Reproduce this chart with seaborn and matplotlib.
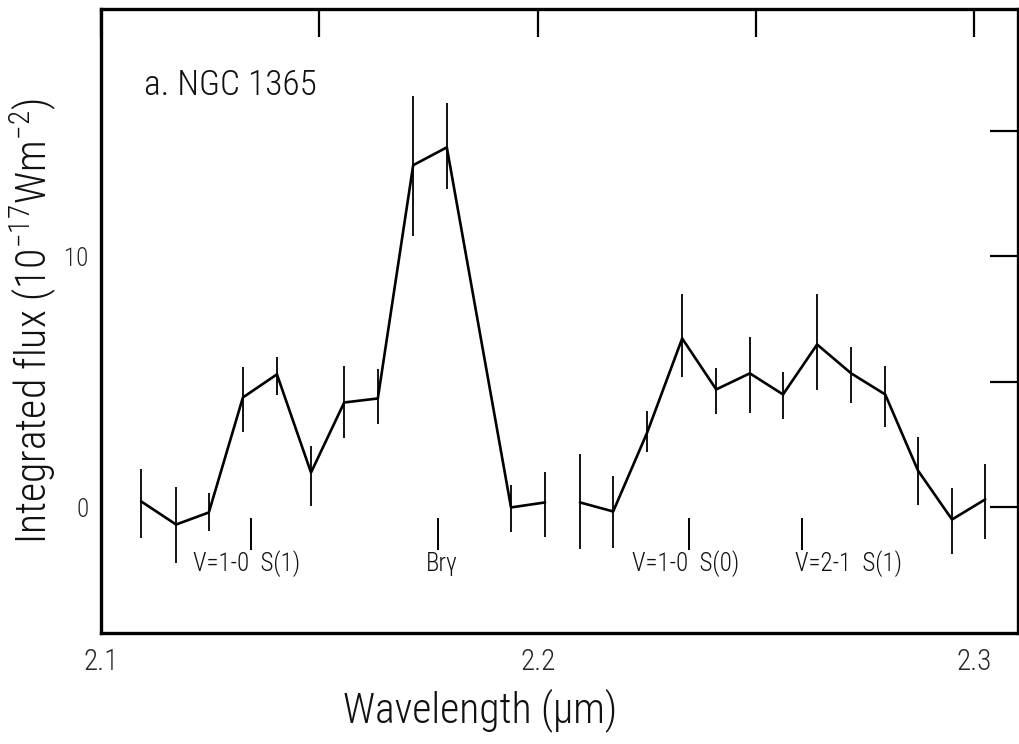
import matplotlib
matplotlib.use("Agg")
import matplotlib.pyplot as plt
from matplotlib import font_manager as fm
import seaborn as sns
import pandas as pd

# ---- data ----
segment = [1] * 12 + [2] * 13
wavelength = [2.1092, 2.1172, 2.1247, 2.1325, 2.1403, 2.1481, 2.1557, 2.1634,
              2.1715, 2.1792, 2.1939, 2.2017,
              2.2097, 2.2173, 2.2251, 2.2331, 2.2409, 2.2486, 2.2562, 2.2640,
              2.2718, 2.2796, 2.2871, 2.2949, 2.3025]
flux = [0.24, -0.68, -0.20, 4.38, 5.30, 1.39, 4.18, 4.34, 13.63, 14.34, 0.00, 0.20,
        0.20, -0.16, 2.99, 6.73, 4.70, 5.34, 4.50, 6.49, 5.34, 4.50, 1.47, -0.48, 0.32]
err_high = [1.55, 0.80, 0.56, 5.58, 5.98, 2.43, 5.62, 5.50, 16.37, 16.10, 0.88, 1.43,
            2.11, 1.24, 3.86, 8.49, 5.54, 6.77, 5.38, 8.49, 6.37, 5.62, 2.79, 0.76, 1.75]
err_low = [-1.20, -2.23, -0.92, 2.99, 4.46, 0.04, 2.75, 3.31, 10.80, 12.70, -0.96, -1.16,
           -1.67, -1.63, 2.19, 5.18, 3.71, 3.78, 3.51, 4.66, 4.14, 3.19, 0.08, -1.87, -1.27]

line_names = ["V=1-0  S(1)", "Br\u03b3", "V=1-0  S(0)", "V=2-1  S(1)"]
line_wavelengths = [2.1344, 2.1772, 2.2347, 2.2606]
line_label_x = [2.1334, 2.1781, 2.2338, 2.2711]

x_ticks = [2.10, 2.15, 2.20, 2.25, 2.30]
x_tick_labels = ["2.1", "", "2.2", "", "2.3"]
y_ticks = [0, 5, 10, 15]
y_tick_labels = ["0", "", "10", ""]

df = pd.DataFrame({"segment": segment, "wavelength": wavelength, "flux": flux,
                   "lo": err_low, "hi": err_high})

# ---- style ----
sns.set_style("white")

# choose a narrow font if one is installed
entries = [(f.name, f.stretch) for f in fm.fontManager.ttflist]
names = {n for n, _ in entries}
family, stretch = "DejaVu Sans", "normal"
if "Roboto Condensed" in names:
    family = "Roboto Condensed"
elif "Liberation Sans Narrow" in names:
    family = "Liberation Sans Narrow"
elif any(n == "DejaVu Sans" and s in ("condensed", "semi-condensed") for n, s in entries):
    family, stretch = "DejaVu Sans", "condensed"
plt.rcParams["font.family"] = [family, "DejaVu Sans"]
plt.rcParams["font.stretch"] = stretch
plt.rcParams["font.weight"] = "light"
plt.rcParams["mathtext.fontset"] = "dejavusans"

fig = plt.figure(figsize=(10.2, 7.44), dpi=100)
ax = fig.add_axes([0.099, 0.1492, 0.899, 0.8387])

sns.lineplot(data=df, x="wavelength", y="flux", units="segment", estimator=None,
             color="black", lw=1.9, ax=ax, legend=False)
ax.vlines(df["wavelength"], df["lo"], df["hi"], color="black", lw=1.3)

# spectral line markers
ax.vlines(line_wavelengths, -1.71, -0.44, color="black", lw=1.4)
for name, lx in zip(line_names, line_label_x):
    ax.text(lx, -2.25, name, ha="center", va="center", fontsize=18,
            fontweight="light", color="#111111")

ax.text(2.1098, 16.8, "a. NGC 1365", ha="left", va="center", fontsize=25.5,
        fontweight="light", color="#111111")

ax.set_xlim(2.1, 2.31)
ax.set_ylim(-5.0, 19.85)
ax.set_xticks(x_ticks)
ax.set_xticklabels(x_tick_labels)
ax.set_yticks(y_ticks)
ax.set_yticklabels(y_tick_labels)

ax.tick_params(axis="both", which="major", direction="in", length=20, width=1.6,
               top=True, right=True, color="black")
ax.tick_params(axis="x", labelsize=21, pad=11)
ax.tick_params(axis="y", labelsize=18, pad=9)
for lab in ax.get_xticklabels() + ax.get_yticklabels():
    lab.set_fontweight("light")

for s in ax.spines.values():
    s.set_visible(True)
    s.set_linewidth(2.4)
    s.set_color("black")

ax.set_xlabel("Wavelength (\u03bcm)", fontsize=30, fontweight="light", color="#111111")
ax.xaxis.set_label_coords(0.414, -0.088)
ax.set_ylabel(r"Integrated flux (10$^{\mathregular{-17}}$Wm$^{\mathregular{-2}}$)",
              fontsize=30, fontweight="light", labelpad=4, color="#111111")

fig.savefig("out.png", dpi=100)
